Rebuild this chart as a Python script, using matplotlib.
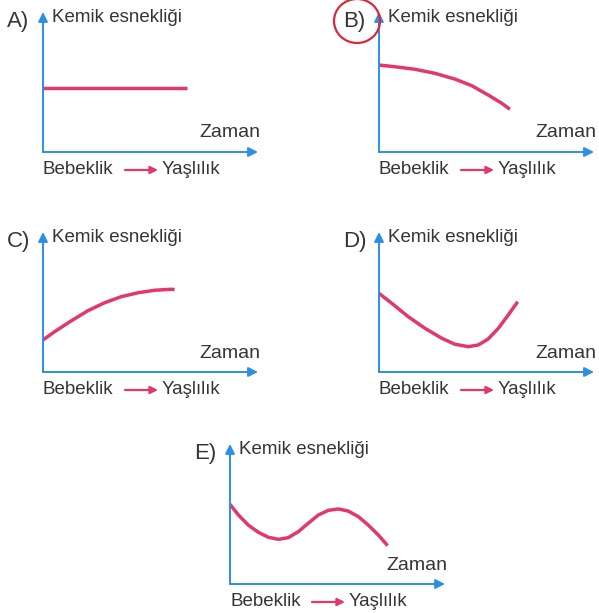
import matplotlib
matplotlib.use('Agg')
import matplotlib.pyplot as plt
from matplotlib.patches import Ellipse

plt.rcParams['font.family'] = ['Liberation Sans', 'DejaVu Sans']

# Curves: time (0-10) vs bone elasticity (0-10)
a_time = [0.0, 6.7]
a_elast = [4.6, 4.6]

b_time = [0.0, 0.74, 1.67, 2.60, 3.53, 4.31, 5.08, 5.71, 6.09]
b_elast = [6.21, 6.09, 5.91, 5.62, 5.21, 4.74, 4.07, 3.48, 3.05]

c_time = [0.0, 0.54, 1.32, 2.09, 2.87, 3.64, 4.42, 5.20, 5.97, 6.12]
c_elast = [2.29, 2.88, 3.66, 4.38, 4.95, 5.38, 5.66, 5.84, 5.91, 5.88]

d_time = [0.0, 0.59, 1.36, 2.14, 2.92, 3.53, 4.15, 4.62, 5.08, 5.55,
          6.01, 6.45]
d_elast = [5.62, 4.91, 3.95, 3.12, 2.41, 1.98, 1.81, 1.93, 2.36, 3.12,
           4.07, 5.02]

e_time = [0.0, 0.39, 0.85, 1.32, 1.78, 2.25, 2.71, 3.18, 3.64, 4.11,
          4.57, 5.04, 5.50, 5.97, 6.43, 6.90, 7.33]
e_elast = [5.69, 4.93, 4.21, 3.69, 3.34, 3.19, 3.31, 3.74, 4.34, 4.93,
           5.26, 5.36, 5.21, 4.81, 4.21, 3.50, 2.74]

letters = ['A)', 'B)', 'C)', 'D)', 'E)']
y_label = 'Kemik esnekliği'
x_label = 'Zaman'
start_label = 'Bebeklik'
end_label = 'Yaşlılık'

series = [(a_time, a_elast), (b_time, b_elast), (c_time, c_elast),
          (d_time, d_elast), (e_time, e_elast)]

# panel origins in pixels (left, bottom measured from top)
origins = [(43, 152), (379, 152), (43, 372), (379, 372), (230, 584)]

W, H = 599, 613
pw, ph = 215, 140
axis_col = '#2b8fe3'
curve_col = '#e2386c'
text_col = '#353535'

fig = plt.figure(figsize=(W / 100, H / 100), dpi=100)
fig.patch.set_facecolor('white')


def put(ax, s, dx, dy, **kw):
    ax.annotate(s, xy=(dx, dy), xycoords='axes pixels', color=text_col,
                annotation_clip=False, **kw)


for (t, e), (left, bottom), letter in zip(series, origins, letters):
    ax = fig.add_axes([left / W, (H - bottom) / H, pw / W, ph / H])
    ax.set_xlim(0, 10)
    ax.set_ylim(0, 10)
    ax.axis('off')

    ax.plot(t, e, color=curve_col, lw=2.5, solid_capstyle='butt',
            solid_joinstyle='round', clip_on=False)

    arrow = dict(arrowstyle='-|>', color=axis_col, lw=1.4,
                 mutation_scale=14, shrinkA=0, shrinkB=0)
    ax.annotate('', xy=(1, 0), xytext=(0, 0), xycoords='axes fraction',
                arrowprops=arrow)
    ax.annotate('', xy=(0, 1), xytext=(0, 0), xycoords='axes fraction',
                arrowprops=arrow)

    put(ax, letter, -36, 131, fontsize=16, ha='left', va='center')
    put(ax, y_label, 9, 134, fontsize=13.5, ha='left', va='center')
    put(ax, x_label, 217, 19, fontsize=14, ha='right', va='center')
    put(ax, start_label, 0, -18, fontsize=13.5, ha='left', va='center')
    put(ax, end_label, 119, -18, fontsize=13.5, ha='left', va='center')
    ax.annotate('', xy=(115, -18), xytext=(82, -18), xycoords='axes pixels',
                annotation_clip=False,
                arrowprops=dict(arrowstyle='-|>', color=curve_col, lw=1.6,
                                mutation_scale=11, shrinkA=0, shrinkB=0))

# hand-drawn ring around the chosen answer
fig.add_artist(Ellipse((357 / W, (H - 21) / H), 46 / W, 44 / H,
                       transform=fig.transFigure, fill=False,
                       edgecolor='#d92a3a', lw=1.6))

plt.savefig('out.png', dpi=100)
